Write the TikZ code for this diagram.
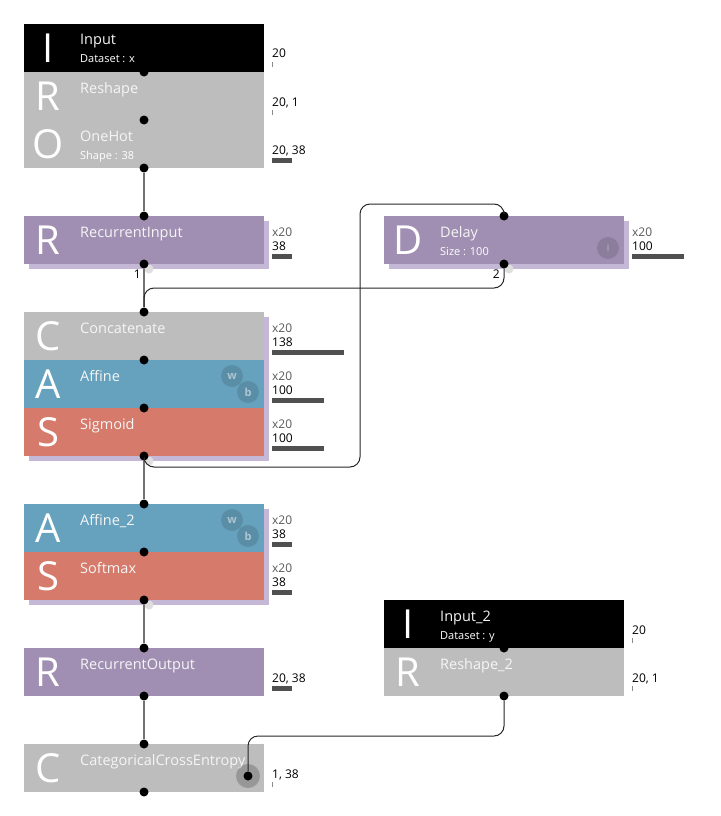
\documentclass[tikz,border=0pt]{standalone}
\usepackage{fontspec}
\setmainfont{Open Sans}
\usetikzlibrary{positioning,calc,backgrounds}

\definecolor{laygray}{HTML}{BDBDBD}
\definecolor{laypurple}{HTML}{A08FB2}
\definecolor{layblue}{HTML}{66A2BE}
\definecolor{layred}{HTML}{D67B6B}
\definecolor{layback}{HTML}{C5B8D6}
\definecolor{barcol}{HTML}{505050}

\begin{document}
\begin{tikzpicture}[
  x=1pt, y=-1pt,
  font=\fontsize{12}{14}\selectfont,
  layer/.style={
    rectangle, anchor=north west,
    minimum width=240pt, minimum height=48pt,
    inner sep=0pt, outer sep=0pt
  },
  tag/.style={text=white, inner sep=0pt, font=\fontsize{40}{40}\selectfont},
  title/.style={text=white!96!black, anchor=base west, inner sep=0pt, font=\fontsize{14.5}{16}\selectfont},
  info/.style={text=white, anchor=base west, inner sep=0pt, font=\fontsize{11}{13}\selectfont},
  port/.style={circle, fill=black, minimum size=9pt, inner sep=0pt},
  ghost/.style={circle, fill=black!13, minimum size=9pt, inner sep=0pt},
  dim/.style={anchor=base west, inner sep=0pt},
  batch/.style={dim, text=black!65},
  bar/.style={rectangle, anchor=north west, fill=barcol, minimum height=5pt, inner sep=0pt},
  tick/.style={bar, fill=black!45, minimum width=1pt},
  param/.style={
    circle, fill=black, fill opacity=0.12, text opacity=0.5, text=white,
    minimum size=22pt, inner sep=0pt, font=\fontsize{11}{11}\selectfont\bfseries
  },
  backdrop/.style={fill=layback},
  wire/.style={draw=black!55, line width=2pt},
  link/.style={draw=black!85, line width=1pt, rounded corners=10pt}
]
\useasboundingbox (0,0) rectangle (720,816);

% --- Left column of layers ---
\node[layer, fill=black] (input) at (24,24) {};
\node[layer, fill=laygray, below=0pt of input] (reshape) {};
\node[layer, fill=laygray, below=0pt of reshape] (onehot) {};
\node[layer, fill=laypurple, below=48pt of onehot] (recin) {};
\node[layer, fill=laygray, below=48pt of recin] (concat) {};
\node[layer, fill=layblue, below=0pt of concat] (affine) {};
\node[layer, fill=layred, below=0pt of affine] (sigmoid) {};
\node[layer, fill=layblue, below=48pt of sigmoid] (affinetwo) {};
\node[layer, fill=layred, below=0pt of affinetwo] (softmax) {};
\node[layer, fill=laypurple, below=48pt of softmax] (recout) {};
\node[layer, fill=laygray, below=48pt of recout] (cce) {};

% --- Right column of layers ---
\node[layer, fill=laypurple] (delay) at (384,216) {};
\node[layer, fill=black] (inputtwo) at (384,600) {};
\node[layer, fill=laygray, below=0pt of inputtwo] (reshapetwo) {};

% --- Shadows behind the recurrent groups ---
\begin{scope}[on background layer]
  \fill[backdrop] ($(recin.north west)+(5,5)$) rectangle ($(recin.south east)+(5,5)$);
  \fill[backdrop] ($(delay.north west)+(5,5)$) rectangle ($(delay.south east)+(5,5)$);
  \fill[backdrop] ($(concat.north west)+(5,5)$) rectangle ($(sigmoid.south east)+(5,5)$);
  \fill[backdrop] ($(affinetwo.north west)+(5,5)$) rectangle ($(softmax.south east)+(5,5)$);
\end{scope}

% --- Letters, names and settings ---
\node[tag] (t-input) at ($(input.west)+(24,0)$) {I};
\node[title] (n-input) at ($(input.north west)+(56,21)$) {Input};
\node[info] (i-input) at ($(input.north west)+(56,39)$) {Dataset : x};
\node[tag] (t-reshape) at ($(reshape.west)+(24,0)$) {R};
\node[title] (n-reshape) at ($(reshape.north west)+(56,21)$) {Reshape};
\node[tag] (t-onehot) at ($(onehot.west)+(24,0)$) {O};
\node[title] (n-onehot) at ($(onehot.north west)+(56,21)$) {OneHot};
\node[info] (i-onehot) at ($(onehot.north west)+(56,39)$) {Shape : 38};
\node[tag] (t-recin) at ($(recin.west)+(24,0)$) {R};
\node[title] (n-recin) at ($(recin.north west)+(56,21)$) {RecurrentInput};
\node[tag] (t-delay) at ($(delay.west)+(24,0)$) {D};
\node[title] (n-delay) at ($(delay.north west)+(56,21)$) {Delay};
\node[info] (i-delay) at ($(delay.north west)+(56,39)$) {Size : 100};
\node[tag] (t-concat) at ($(concat.west)+(24,0)$) {C};
\node[title] (n-concat) at ($(concat.north west)+(56,21)$) {Concatenate};
\node[tag] (t-affine) at ($(affine.west)+(24,0)$) {A};
\node[title] (n-affine) at ($(affine.north west)+(56,21)$) {Affine};
\node[tag] (t-sigmoid) at ($(sigmoid.west)+(24,0)$) {S};
\node[title] (n-sigmoid) at ($(sigmoid.north west)+(56,21)$) {Sigmoid};
\node[tag] (t-affinetwo) at ($(affinetwo.west)+(24,0)$) {A};
\node[title] (n-affinetwo) at ($(affinetwo.north west)+(56,21)$) {Affine\_2};
\node[tag] (t-softmax) at ($(softmax.west)+(24,0)$) {S};
\node[title] (n-softmax) at ($(softmax.north west)+(56,21)$) {Softmax};
\node[tag] (t-recout) at ($(recout.west)+(24,0)$) {R};
\node[title] (n-recout) at ($(recout.north west)+(56,21)$) {RecurrentOutput};
\node[tag] (t-cce) at ($(cce.west)+(24,0)$) {C};
\node[title] (n-cce) at ($(cce.north west)+(56,21)$) {CategoricalCrossEntropy};
\node[tag] (t-inputtwo) at ($(inputtwo.west)+(24,0)$) {I};
\node[title] (n-inputtwo) at ($(inputtwo.north west)+(56,21)$) {Input\_2};
\node[info] (i-inputtwo) at ($(inputtwo.north west)+(56,39)$) {Dataset : y};
\node[tag] (t-reshapetwo) at ($(reshapetwo.west)+(24,0)$) {R};
\node[title] (n-reshapetwo) at ($(reshapetwo.north west)+(56,21)$) {Reshape\_2};

% --- Parameter badges ---
\node[param] (w-affine) at ($(affine.north east)+(-32,16)$) {w};
\node[param] (b-affine) at ($(affine.north east)+(-16,32)$) {b};
\node[param] (w-affinetwo) at ($(affinetwo.north east)+(-32,16)$) {w};
\node[param] (b-affinetwo) at ($(affinetwo.north east)+(-16,32)$) {b};
\node[param, font=\fontsize{9}{9}\selectfont] (i-badge) at ($(delay.north east)+(-16,32)$) {I};
\node[param, fill opacity=0.2, minimum size=24pt] (loss-badge) at ($(cce.north east)+(-16,32)$) {};

% --- Output sizes ---
\node[dim] (s-input) at ($(input.south east)+(8,-15)$) {20};
\node[tick] (k-input) at ($(input.south east)+(8,-10)$) {};
\node[dim] (s-reshape) at ($(reshape.south east)+(8,-14)$) {20, 1};
\node[tick] (k-reshape) at ($(reshape.south east)+(8,-10)$) {};
\node[dim] (s-onehot) at ($(onehot.south east)+(8,-14)$) {20, 38};
\node[bar, minimum width=20pt] (k-onehot) at ($(onehot.south east)+(8,-10)$) {};
\node[batch] (x-recin) at ($(recin.south east)+(8,-28)$) {x20};
\node[dim] (s-recin) at ($(recin.south east)+(8,-14)$) {38};
\node[bar, minimum width=20pt] (k-recin) at ($(recin.south east)+(8,-10)$) {};
\node[batch] (x-delay) at ($(delay.south east)+(8,-28)$) {x20};
\node[dim] (s-delay) at ($(delay.south east)+(8,-14)$) {100};
\node[bar, minimum width=52pt] (k-delay) at ($(delay.south east)+(8,-10)$) {};
\node[batch] (x-concat) at ($(concat.south east)+(8,-28)$) {x20};
\node[dim] (s-concat) at ($(concat.south east)+(8,-14)$) {138};
\node[bar, minimum width=72pt] (k-concat) at ($(concat.south east)+(8,-10)$) {};
\node[batch] (x-affine) at ($(affine.south east)+(8,-28)$) {x20};
\node[dim] (s-affine) at ($(affine.south east)+(8,-14)$) {100};
\node[bar, minimum width=52pt] (k-affine) at ($(affine.south east)+(8,-10)$) {};
\node[batch] (x-sigmoid) at ($(sigmoid.south east)+(8,-28)$) {x20};
\node[dim] (s-sigmoid) at ($(sigmoid.south east)+(8,-14)$) {100};
\node[bar, minimum width=52pt] (k-sigmoid) at ($(sigmoid.south east)+(8,-10)$) {};
\node[batch] (x-affinetwo) at ($(affinetwo.south east)+(8,-28)$) {x20};
\node[dim] (s-affinetwo) at ($(affinetwo.south east)+(8,-14)$) {38};
\node[bar, minimum width=20pt] (k-affinetwo) at ($(affinetwo.south east)+(8,-10)$) {};
\node[batch] (x-softmax) at ($(softmax.south east)+(8,-28)$) {x20};
\node[dim] (s-softmax) at ($(softmax.south east)+(8,-14)$) {38};
\node[bar, minimum width=20pt] (k-softmax) at ($(softmax.south east)+(8,-10)$) {};
\node[dim] (s-recout) at ($(recout.south east)+(8,-14)$) {20, 38};
\node[bar, minimum width=20pt] (k-recout) at ($(recout.south east)+(8,-10)$) {};
\node[dim] (s-cce) at ($(cce.south east)+(8,-14)$) {1, 38};
\node[tick] (k-cce) at ($(cce.south east)+(8,-10)$) {};
\node[dim] (s-inputtwo) at ($(inputtwo.south east)+(8,-14)$) {20};
\node[tick] (k-inputtwo) at ($(inputtwo.south east)+(8,-10)$) {};
\node[dim] (s-reshapetwo) at ($(reshapetwo.south east)+(8,-14)$) {20, 1};
\node[tick] (k-reshapetwo) at ($(reshapetwo.south east)+(8,-10)$) {};

% --- Ports ---
\node[ghost] (g-recin) at ($(recin.south)+(5,5)$) {};
\node[ghost] (g-delay) at ($(delay.south)+(5,5)$) {};
\node[ghost] (g-sigmoid) at ($(sigmoid.south)+(5,5)$) {};
\node[ghost] (g-softmax) at ($(softmax.south)+(5,5)$) {};
\node[port] (o-input) at (input.south) {};
\node[port] (o-reshape) at (reshape.south) {};
\node[port] (o-onehot) at (onehot.south) {};
\node[port] (i-recin) at (recin.north) {};
\node[port] (o-recin) at (recin.south) {};
\node[port] (i-delay) at (delay.north) {};
\node[port] (o-delay) at (delay.south) {};
\node[port] (i-concat) at (concat.north) {};
\node[port] (o-concat) at (concat.south) {};
\node[port] (o-affine) at (affine.south) {};
\node[port] (o-sigmoid) at (sigmoid.south) {};
\node[port] (i-affinetwo) at (affinetwo.north) {};
\node[port] (o-affinetwo) at (affinetwo.south) {};
\node[port] (o-softmax) at (softmax.south) {};
\node[port] (i-recout) at (recout.north) {};
\node[port] (o-recout) at (recout.south) {};
\node[port] (i-cce) at (cce.north) {};
\node[port] (o-cce) at (cce.south) {};
\node[port] (t-cce) at (loss-badge) {};
\node[port] (o-inputtwo) at (inputtwo.south) {};
\node[port] (o-reshapetwo) at (reshapetwo.south) {};
\node[dim, anchor=base east] (l-one) at ($(recin.south)+(-3,14)$) {1};
\node[dim, anchor=base east] (l-two) at ($(delay.south)+(-4,14)$) {2};

% --- Connections ---
\draw[wire] (o-onehot) -- (i-recin);
\draw[wire] (o-recin) -- (i-concat);
\draw[wire] (o-sigmoid) -- (i-affinetwo);
\draw[wire] (o-softmax) -- (i-recout);
\draw[wire] (o-recout) -- (i-cce);
\draw[link] (o-delay) |- ([yshift=24pt]i-concat.center) -- (i-concat);
\draw[link] (o-sigmoid) -- ++(0,11) -- ++(216,0) |- ([yshift=12pt]i-delay.center) -- (i-delay);
\draw[link] (o-reshapetwo) -- ++(0,40) -| (t-cce);

\end{tikzpicture}
\end{document}
